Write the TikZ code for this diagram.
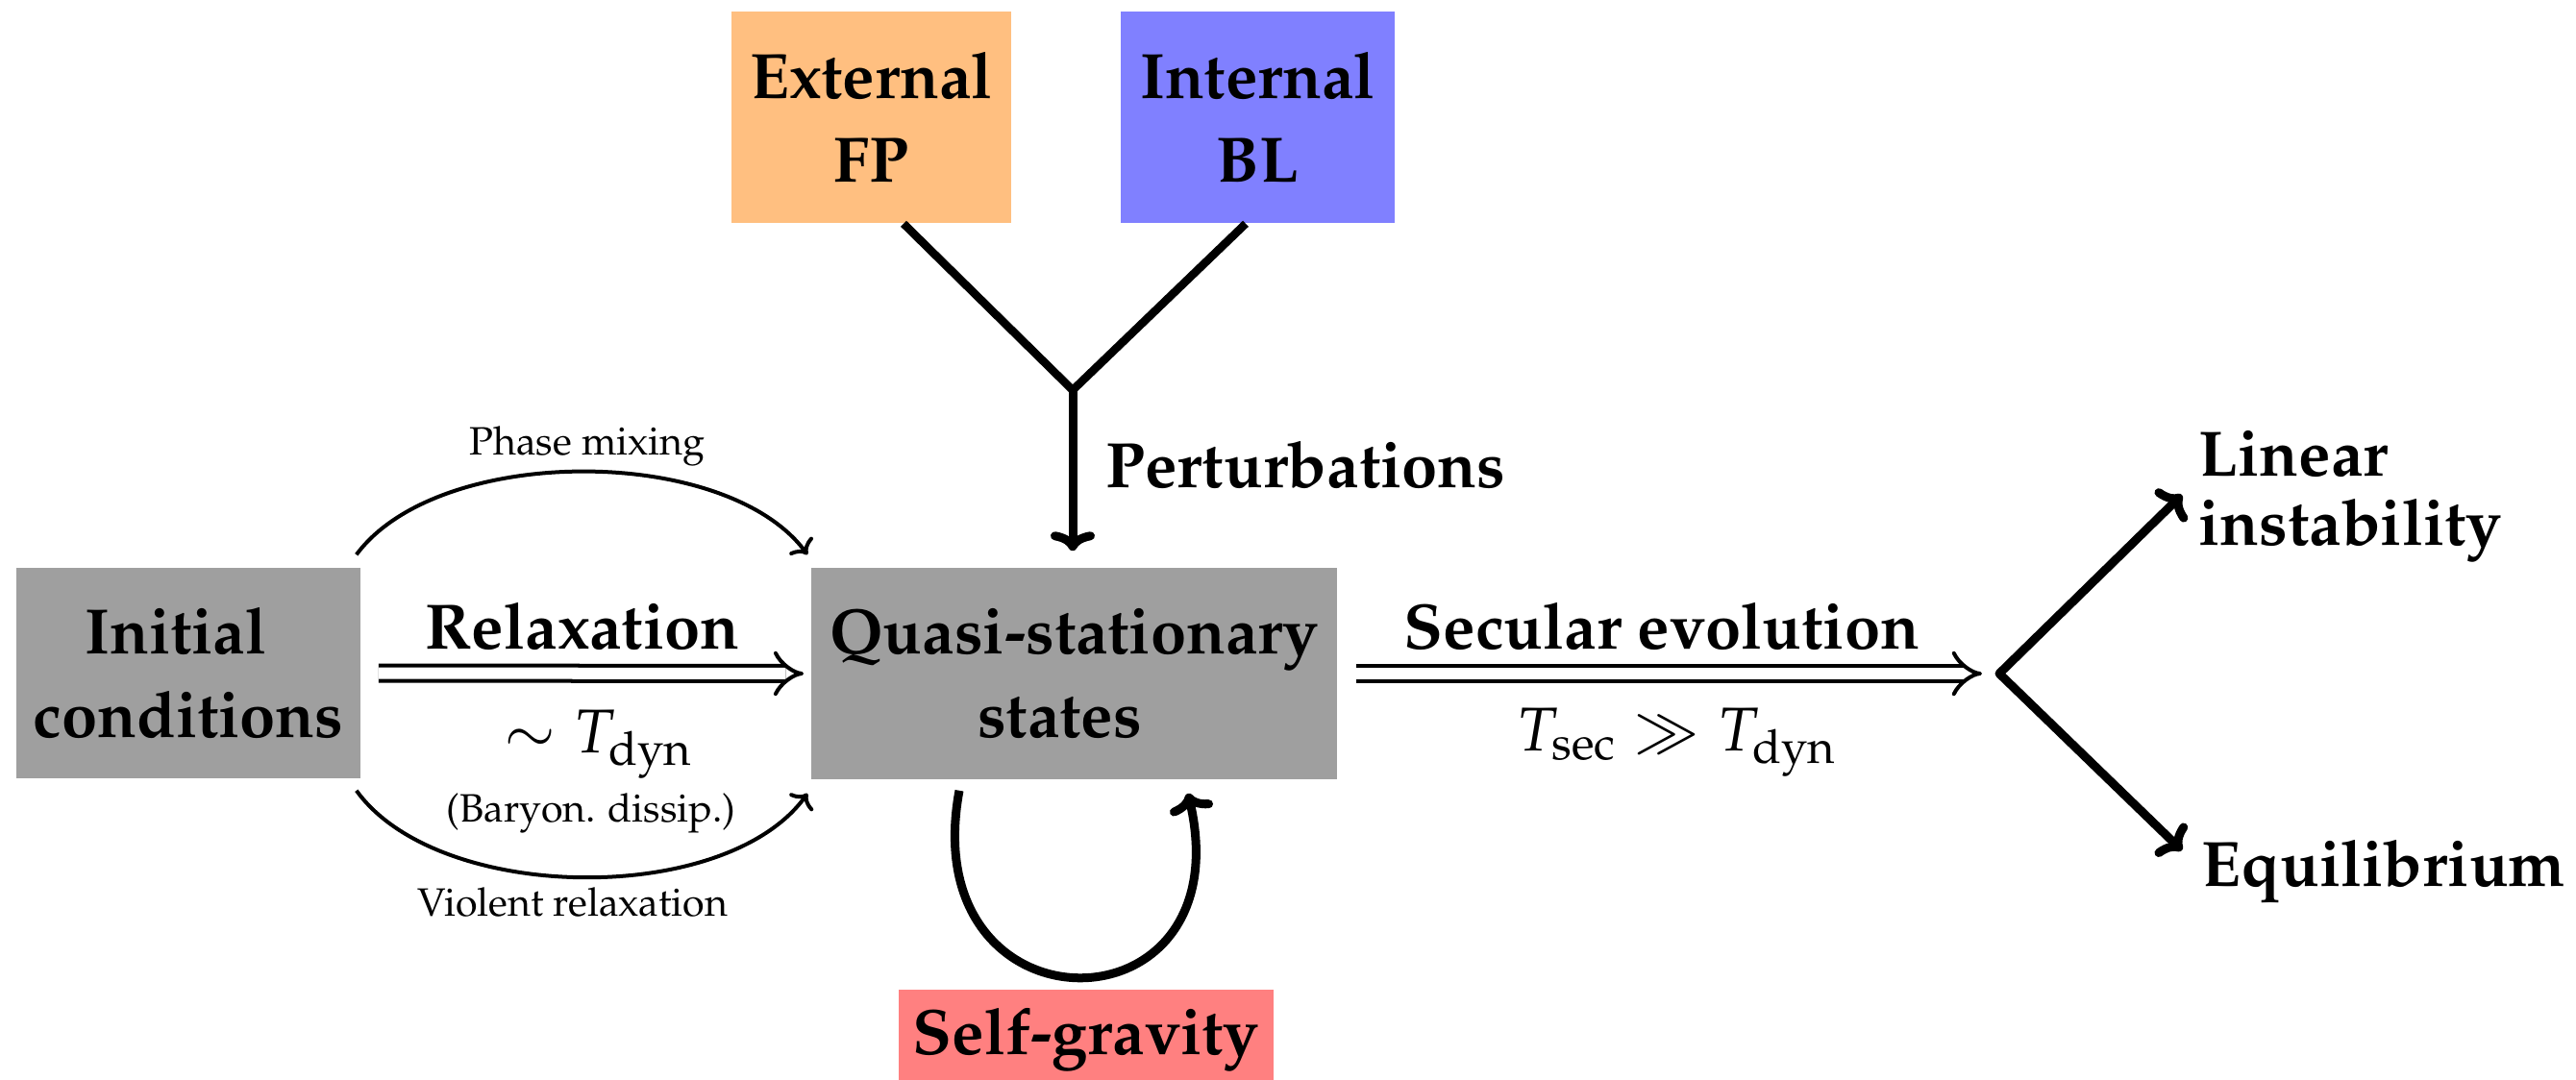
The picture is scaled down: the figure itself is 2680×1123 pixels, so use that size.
\documentclass[tikz,border=0pt]{standalone}
\usepackage[T1]{fontenc}
\usepackage{mathpazo}
\usetikzlibrary{arrows.meta,calc}
\newcommand{\bigbf}{\fontsize{19}{24.75}\selectfont\bfseries}
\newcommand{\bigrm}{\fontsize{18.3}{24.75}\selectfont}
\newcommand{\smallrm}{\fontsize{11.7}{13.5}\selectfont}
\begin{document}
\begin{tikzpicture}[x=0.01cm,y=-0.01cm,
  box/.style={fill=gray!75, inner sep=0pt, align=center, font=\bigbf},
  lbl/.style={inner sep=0pt, font=\bigbf},
  mlbl/.style={inner sep=0pt, font=\bigrm},
  slbl/.style={inner sep=0pt, font=\smallrm},
  dbl/.style={double, double distance=0.12cm, line width=0.04cm, -{Implies}},
  thinarr/.style={line width=0.04cm, -{To[length=0.13cm,width=0.3cm,round]}},
  thickln/.style={line width=0.085cm},
  thickarr/.style={line width=0.09cm, -{To[length=0.2cm,width=0.46cm,round]}}]
\useasboundingbox (0,0) rectangle (2680,1123);

% boxes
\node[box, minimum width=3.58cm, minimum height=2.19cm] (init) at (196,700.5) {Initial\hspace*{0.26cm}\\conditions};
\node[box, minimum width=5.47cm, minimum height=2.2cm] (qss) at (1117.5,701) {Quasi-stationary\\states\hspace*{0.3cm}};
\node[box, fill=orange!50, minimum width=2.91cm, minimum height=2.2cm] (ext) at (906.5,122) {External\\FP};
\node[box, fill=blue!50, minimum width=2.85cm, minimum height=2.2cm] (int) at (1308.5,122) {Internal\\BL};
\node[box, fill=red!50, minimum width=3.9cm, minimum height=1.03cm] (self) at (1130,1081.5) {Self-gravity};

% labels
\node[lbl, anchor=base] (relax) at (606,675) {Relaxation};
\node[slbl, anchor=base] (phase) at (611,473) {Phase mixing};
\node[mlbl, anchor=base] (tdyn) at (623,783) {$\sim T_{\rm dyn}$};
\node[slbl, anchor=base] (bary) at (615,855) {(Baryon. dissip.)};
\node[slbl, anchor=base] (viol) at (596,953) {Violent relaxation};
\node[lbl, anchor=base west] (pert) at (1150,507) {Perturbations};
\node[lbl, anchor=base] (sec) at (1729,675) {Secular evolution};
\node[mlbl, anchor=base] (tsec) at (1744,781) {$T_{\rm sec}\gg T_{\rm dyn}$};
\node[lbl, align=left, font=\fontsize{19}{20.5}\selectfont\bfseries, anchor=west] (lin) at (2287,516.5) {Linear\\instability};
\node[lbl, anchor=base west] (eq) at (2290,922) {Equilibrium};

% coordinates
\coordinate (j) at (1116,406);
\coordinate (fork) at (2080,701);
\coordinate (lt) at (2270,515);
\coordinate (et) at (2270,885);

% connectors
\draw[dbl] ([xshift=0.18cm]init.east) -- ([xshift=-0.07cm]qss.west);
\draw[dbl, shorten >=0.18cm] ([xshift=0.19cm]qss.east) -- (fork);

\draw[thinarr] ($(init.north east)+(-5,-13)$) .. controls +(85,-115) and +(-85,-115) .. ($(qss.north west)+(-3,-13)$);
\draw[thinarr] ($(init.south east)+(-5,12)$) .. controls +(85,118) and +(-85,118) .. ($(qss.south west)+(-3,14)$);

\draw[thickarr] ($(qss.south)+(-119.5,11)$) .. controls +(-48,258) and +(59,255) .. ($(qss.south)+(118.5,14)$);

\draw[thickln, line join=miter] ($(ext.south)+(33.5,0)$) -- (j) -- ($(int.south)+(-12.5,0)$);
\draw[thickarr, shorten >=0.17cm] (j) -- (j |- qss.north);

\draw[line width=0.09cm, line join=round, {To[length=0.2cm,width=0.46cm,round]}-{To[length=0.2cm,width=0.46cm,round]}] (lt) -- (fork) -- (et);
\end{tikzpicture}
\end{document}
